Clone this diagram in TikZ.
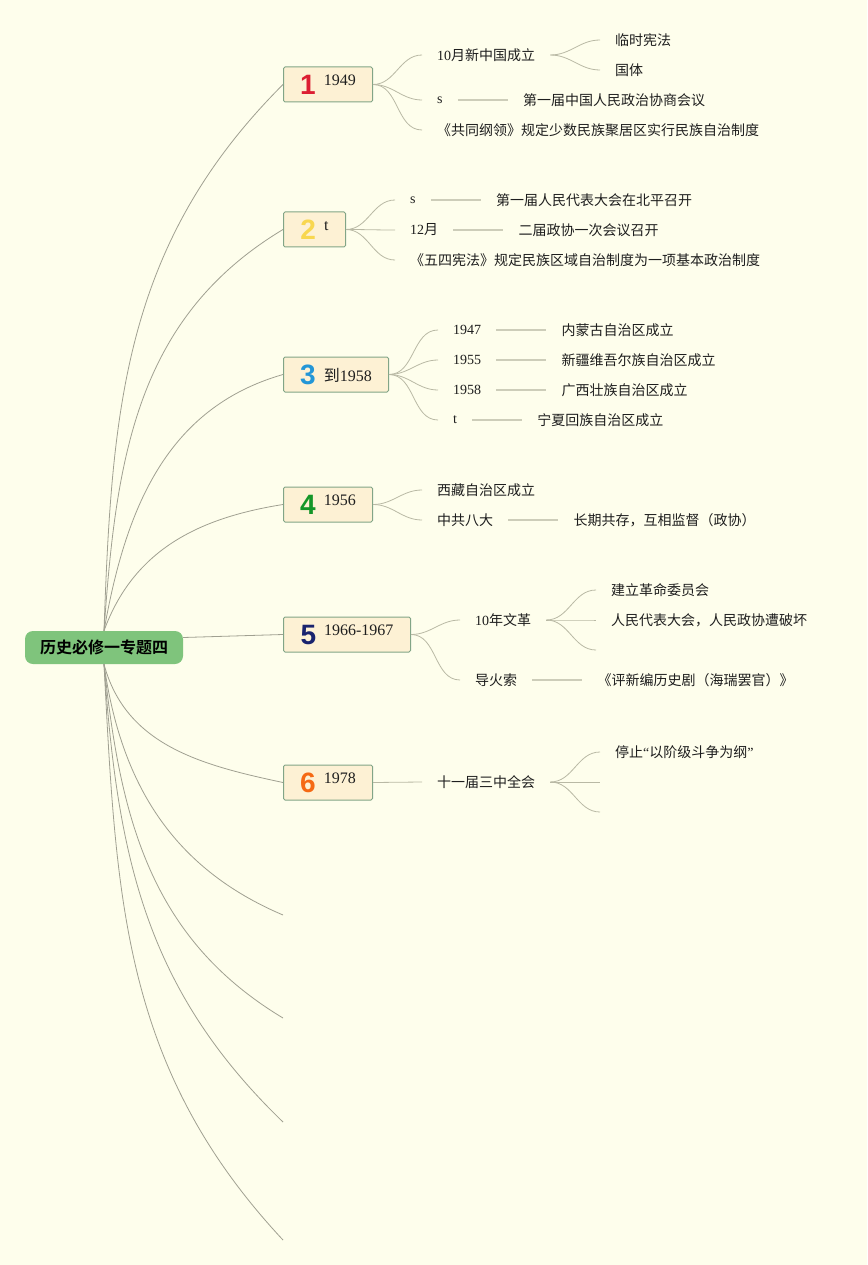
\documentclass[tikz,border=0pt]{standalone}
\usepackage{fontspec}
\setmainfont{Liberation Serif}
\newfontfamily\cjk{Noto Sans CJK SC}[BoldFont={Noto Sans CJK SC Bold}]
\newfontfamily\digitfont{Liberation Sans}
\usetikzlibrary{positioning}

\definecolor{paper}{RGB}{254,254,236}
\definecolor{ink}{RGB}{30,30,30}
\definecolor{rootgreen}{RGB}{127,196,124}
\definecolor{boxfill}{RGB}{253,241,212}
\definecolor{boxline}{RGB}{130,165,135}
\definecolor{limbgray}{RGB}{160,160,145}
\definecolor{twiggray}{RGB}{185,185,165}
\definecolor{rulegray}{RGB}{205,205,185}
\definecolor{numred}{RGB}{220,30,50}
\definecolor{numyellow}{RGB}{248,215,80}
\definecolor{numblue}{RGB}{35,150,215}
\definecolor{numgreen}{RGB}{20,150,40}
\definecolor{numnavy}{RGB}{25,35,110}
\definecolor{numorange}{RGB}{245,105,20}

\newcommand\yr[1]{{\rmfamily #1}}
\newcommand\badge[2]{{\color{#1}\digitfont\bfseries\fontsize{28}{28}\selectfont #2}}

\begin{document}
\begin{tikzpicture}[
    x=1pt, y=1pt,
    % --- node styles ---
    root/.style={fill=rootgreen, rounded corners=8pt, minimum width=158pt,
                 minimum height=33pt, inner sep=0pt, text=black,
                 font=\cjk\bfseries\fontsize{16}{18}\selectfont},
    topic/.style={draw=boxline, line width=1pt, fill=boxfill, rounded corners=1.5pt,
                  minimum height=35pt, inner sep=0pt, anchor=west, text=ink,
                  font=\cjk\fontsize{16}{18}\selectfont},
    leaf/.style={inner xsep=15pt, inner ysep=2pt, anchor=west, text=ink,
                 font=\cjk\fontsize{14}{16}\selectfont},
    % --- connector styles ---
    limb/.style={draw=limbgray, line width=0.8pt},
    twig/.style={draw=twiggray, line width=0.8pt},
    rule/.style={draw=rulegray, line width=1.3pt},
]

% === canvas ===
\fill[paper] (0,0) rectangle (867,-1265);
\useasboundingbox (0,0) rectangle (867,-1265);

% === root ===
\node[root] (root) at (104,-647.5) {历史必修一专题四};

% === the six topics ===
\node[topic, minimum width=89pt]  (t1) at (283,-84.5)  {\badge{numred}{1}\hspace{8pt}\raisebox{9pt}{\yr{1949}}};
\node[topic, minimum width=62pt]  (t2) at (283,-229.5) {\badge{numyellow}{2}\hspace{8pt}\raisebox{9pt}{\yr{t}}};
\node[topic, minimum width=105pt] (t3) at (283,-374.5) {\badge{numblue}{3}\hspace{8pt}\raisebox{3pt}{到\yr{1958}}};
\node[topic, minimum width=89pt]  (t4) at (283,-504.5) {\badge{numgreen}{4}\hspace{8pt}\raisebox{9pt}{\yr{1956}}};
\node[topic, minimum width=127pt] (t5) at (283,-634.5) {\badge{numnavy}{5}\hspace{8pt}\raisebox{9pt}{\yr{1966-1967}}};
\node[topic, minimum width=89pt]  (t6) at (283,-782.5) {\badge{numorange}{6}\hspace{8pt}\raisebox{9pt}{\yr{1978}}};

% === empty branches below ===
\coordinate (e1) at (283,-915);
\coordinate (e2) at (283,-1018);
\coordinate (e3) at (283,-1122);
\coordinate (e4) at (283,-1240);

% === root connectors ===
\draw[limb] (root.north) to[out=88, in=225] (t1.west);
\draw[limb] (root.north) to[out=86, in=211] (t2.west);
\draw[limb] (root.north) to[out=80, in=196] (t3.west);
\draw[limb] (root.north) to[out=70, in=189] (t4.west);
\draw[limb] ([yshift=10pt]root.east) -- (t5.west);
\draw[limb] (root.south) to[out=-75, in=168] (t6.west);
\foreach \e/\a/\o in {e1/157/-82, e2/149/-84, e3/136/-86, e4/133/-87}
  \draw[limb] (root.south) to[out=\o, in=\a] (\e);

% === topic 1 ===
\node[leaf] (founding)    at (422,-55)  {\yr{10}月新中国成立};
\node[leaf] (provisional) at (600,-40)  {临时宪法};
\node[leaf] (statehood)   at (600,-70)  {国体};
\node[leaf] (s1)          at (422,-100) {\yr{s}};
\node[leaf, right=50pt of s1] (cppcc) {第一届中国人民政治协商会议};
\node[leaf] (program)     at (422,-130) {《共同纲领》规定少数民族聚居区实行民族自治制度};

\draw[twig] (t1.east) to[out=0, in=180] (founding.west);
\draw[twig] (t1.east) to[out=0, in=180] (s1.west);
\draw[twig] (t1.east) to[out=0, in=180] (program.west);
\draw[twig] (founding.east) to[out=0, in=180] (provisional.west);
\draw[twig] (founding.east) to[out=0, in=180] (statehood.west);
\draw[rule] (s1) -- (cppcc);

% === topic 2 ===
\node[leaf] (s2)      at (395,-200) {\yr{s}};
\node[leaf, right=50pt of s2] (npc) {第一届人民代表大会在北平召开};
\node[leaf] (dec)     at (395,-230) {\yr{12}月};
\node[leaf, right=50pt of dec] (second) {二届政协一次会议召开};
\node[leaf] (charter) at (395,-260) {《五四宪法》规定民族区域自治制度为一项基本政治制度};

\draw[twig] (t2.east) to[out=0, in=180] (s2.west);
\draw[twig] (t2.east) to[out=0, in=180] (dec.west);
\draw[twig] (t2.east) to[out=0, in=180] (charter.west);
\draw[rule] (s2) -- (npc);
\draw[rule] (dec) -- (second);

% === topic 3 ===
\node[leaf] (y47) at (438,-330) {\yr{1947}};
\node[leaf, right=50pt of y47] (inner) {内蒙古自治区成立};
\node[leaf] (y55) at (438,-360) {\yr{1955}};
\node[leaf, right=50pt of y55] (xinjiang) {新疆维吾尔族自治区成立};
\node[leaf] (y58) at (438,-390) {\yr{1958}};
\node[leaf, right=50pt of y58] (guangxi) {广西壮族自治区成立};
\node[leaf] (t3x) at (438,-420) {\yr{t}};
\node[leaf, right=50pt of t3x] (ningxia) {宁夏回族自治区成立};

\foreach \k in {y47, y55, y58, t3x}
  \draw[twig] (t3.east) to[out=0, in=180] (\k.west);
\draw[rule] (y47) -- (inner);
\draw[rule] (y55) -- (xinjiang);
\draw[rule] (y58) -- (guangxi);
\draw[rule] (t3x) -- (ningxia);

% === topic 4 ===
\node[leaf] (tibet)  at (422,-490) {西藏自治区成立};
\node[leaf] (eighth) at (422,-520) {中共八大};
\node[leaf, right=50pt of eighth] (coexist) {长期共存，互相监督（政协）};

\draw[twig] (t4.east) to[out=0, in=180] (tibet.west);
\draw[twig] (t4.east) to[out=0, in=180] (eighth.west);
\draw[rule] (eighth) -- (coexist);

% === topic 5 ===
\node[leaf] (revolution) at (460,-620) {\yr{10}年文革};
\node[leaf] (committee)  at (596,-590) {建立革命委员会};
\node[leaf] (damaged)    at (596,-620) {人民代表大会，人民政协遭破坏};
\coordinate (blank5) at (596,-650);
\node[leaf] (fuse)       at (460,-680) {导火索};
\node[leaf, right=50pt of fuse] (drama) {《评新编历史剧（海瑞罢官）》};

\draw[twig] (t5.east) to[out=0, in=180] (revolution.west);
\draw[twig] (t5.east) to[out=0, in=180] (fuse.west);
\draw[twig] (revolution.east) to[out=0, in=180] (committee.west);
\draw[twig] (revolution.east) to[out=0, in=180] (damaged.west);
\draw[twig] (revolution.east) to[out=0, in=180] (blank5);
\draw[rule] (fuse) -- (drama);

% === topic 6 ===
\node[leaf] (plenum) at (422,-782) {十一届三中全会};
\node[leaf] (halt)   at (600,-752) {停止\yr{“}以阶级斗争为纲\yr{”}};
\coordinate (blank6a) at (600,-782);
\coordinate (blank6b) at (600,-812);

\draw[twig] (t6.east) -- (plenum.west);
\draw[twig] (plenum.east) to[out=0, in=180] (halt.west);
\draw[twig] (plenum.east) -- (blank6a);
\draw[twig] (plenum.east) to[out=0, in=180] (blank6b);

\end{tikzpicture}
\end{document}
